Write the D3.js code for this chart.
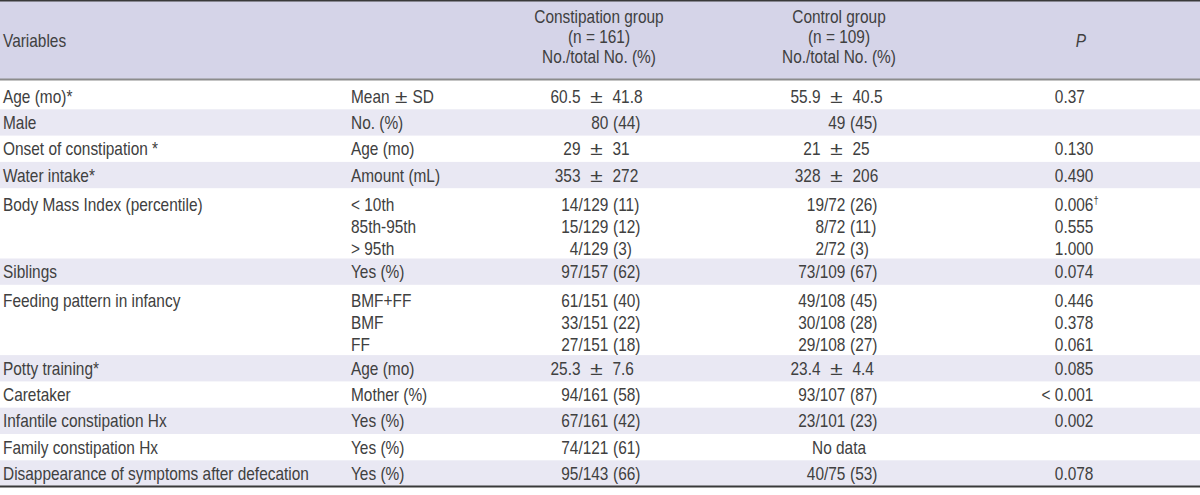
<!DOCTYPE html>
<html>
<head>
<meta charset="utf-8">
<script src="https://cdn.jsdelivr.net/npm/d3@7"></script>
<style>
  html, body { margin: 0; padding: 0; background: #fff; }
  svg { display: block; }
</style>
</head>
<body>
<svg id="chart" width="1200" height="495"></svg>
<script>
// ---------------- DATA ----------------
const headerVariables = "Variables";
const headerConstipation = ["Constipation group", "(n = 161)", "No./total No. (%)"];
const headerControl = ["Control group", "(n = 109)", "No./total No. (%)"];
const headerP = "P";

const variables = [
  "Age (mo)*", "Male", "Onset of constipation *", "Water intake*",
  "Body Mass Index (percentile)", "Siblings", "Feeding pattern in infancy",
  "Potty training*", "Caretaker", "Infantile constipation Hx",
  "Family constipation Hx", "Disappearance of symptoms after defecation"
];
const measures = [
  ["Mean ± SD"], ["No. (%)"], ["Age (mo)"], ["Amount (mL)"],
  ["< 10th", "85th-95th", "> 95th"], ["Yes (%)"], ["BMF+FF", "BMF", "FF"],
  ["Age (mo)"], ["Mother (%)"], ["Yes (%)"], ["Yes (%)"], ["Yes (%)"]
];
const constipationValues = [
  ["60.5 ± 41.8"], ["80 (44)"], ["29 ± 31"], ["353 ± 272"],
  ["14/129 (11)", "15/129 (12)", "4/129 (3)"], ["97/157 (62)"],
  ["61/151 (40)", "33/151 (22)", "27/151 (18)"], ["25.3 ± 7.6"],
  ["94/161 (58)"], ["67/161 (42)"], ["74/121 (61)"], ["95/143 (66)"]
];
const controlValues = [
  ["55.9 ± 40.5"], ["49 (45)"], ["21 ± 25"], ["328 ± 206"],
  ["19/72 (26)", "8/72 (11)", "2/72 (3)"], ["73/109 (67)"],
  ["49/108 (45)", "30/108 (28)", "29/108 (27)"], ["23.4 ± 4.4"],
  ["93/107 (87)"], ["23/101 (23)"], ["No data"], ["40/75 (53)"]
];
const pValues = [
  ["0.37"], [""], ["0.130"], ["0.490"],
  ["0.006†", "0.555", "1.000"], ["0.074"], ["0.446", "0.378", "0.061"],
  ["0.085"], ["< 0.001"], ["0.002"], [""], ["0.078"]
];

// ---------------- LAYOUT / STYLE ----------------
const W = 1200, H = 495;
const FONT = "'Liberation Sans', Arial, sans-serif";
const FS = 18.8;           // font size
const SX = 0.82;           // horizontal condensing
const TEXT = "#404040";
const HEADER_BG = "#d5d4e8";
const STRIPE_BG = "#e9e8f3";
const GAP = 4.6;           // word space

const headerH = 80;
const firstRowExtra = 3;
const rowH = 26.3;
const subPitch = 22;

const svg = d3.select("#chart");

// column anchors via ordinal scale
const colX = d3.scaleOrdinal()
  .domain(["var", "measure", "conCenter", "conPM", "conParen", "ctlCenter", "ctlPM", "ctlParen", "pDot", "pHead"])
  .range([3, 351, 599, 596.5, 613, 839, 836.5, 850, 1063.4, 1081]);

function txt(g, s, x, y, anchor, extra) {
  const t = g.append("text")
    .attr("transform", `translate(${x},${y}) scale(${SX},1)`)
    .attr("text-anchor", anchor || "start")
    .attr("font-family", FONT)
    .attr("font-size", FS)
    .attr("fill", TEXT);
  if (extra && extra.italic) t.attr("font-style", "italic");
  if (s.endsWith("†")) {
    t.append("tspan").text(s.slice(0, -1));
    t.append("tspan").text("†").attr("font-size", FS * 0.6).attr("dy", -7);
  } else {
    t.text(s);
  }
  return t;
}
function tw(s) {
  const t = txt(svg, s, 0, -100, "start");
  const w = t.node().getComputedTextLength() * SX;
  t.remove();
  return w;
}
function pm(g, c, y) {
  g.append("text").attr("transform", `translate(${c},${y}) scale(1.2,1)`).attr("text-anchor", "middle")
    .attr("font-family", FONT).attr("font-size", FS)
    .attr("fill", TEXT).text("±");
}

// ± pieces, symmetric around the ± glyph
function drawPM(g, s, c, y, half) {
  const [a, b] = s.split("±").map(d => d.trim());
  txt(g, a, c - half, y, "end");
  pm(g, c, y);
  txt(g, b, c + half, y, "start");
}

function drawValue(g, s, col, y) {
  if (!s) return;
  if (s.includes("±")) {
    drawPM(g, s, colX(col + "PM"), y, 16);
  } else if (s.includes("(")) {
    const i = s.indexOf("(");
    const px = colX(col + "Paren");
    txt(g, s.slice(0, i).trim(), px - GAP, y, "end");
    txt(g, s.slice(i), px, y, "start");
  } else {
    txt(g, s, colX(col + "Center"), y, "middle");
  }
}

function drawP(g, s, y) {
  if (!s) return;
  const i = s.indexOf(".");
  const dx = colX("pDot");
  txt(g, s.slice(0, i), dx, y, "end");
  txt(g, s.slice(i), dx, y, "start");
}

function drawMeasure(g, s, y) {
  const x = colX("measure");
  if (s.includes("±")) {
    const a = s.split("±")[0].trim();
    const c = x + tw(a) + 11.5;
    drawPM(g, s, c, y, 11.5);
  } else {
    txt(g, s, x, y, "start");
  }
}

// ---------------- ROW GEOMETRY ----------------
const rows = variables.map((v, i) => ({
  v, m: measures[i], c: constipationValues[i], k: controlValues[i], p: pValues[i],
  n: measures[i].length
}));
let yCur = headerH;
rows.forEach((r, i) => {
  const h = (r.n === 1 ? rowH : rowH + (r.n - 1) * subPitch) + (i === 0 ? firstRowExtra : 0);
  r.y0 = yCur; r.h = h; yCur += h;
  const top = r.y0 + (i === 0 ? firstRowExtra : 0);
  r.lineCenters = d3.range(r.n).map(j => r.n === 1 ? top + rowH / 2 : top + 16 + j * subPitch);
});
const tableBottom = yCur;
const BASE = 6.6; // baseline offset from visual center

// ---------------- DRAW ----------------
svg.append("rect").attr("x", 0).attr("y", 0).attr("width", W).attr("height", headerH).attr("fill", HEADER_BG);
svg.append("g").selectAll("rect").data(rows.filter((r, i) => i % 2 === 1)).join("rect")
  .attr("x", 0).attr("y", d => d.y0).attr("width", W).attr("height", d => d.h).attr("fill", STRIPE_BG);

svg.append("line").attr("x1", 0).attr("x2", W).attr("y1", 0.75).attr("y2", 0.75).attr("stroke", "#3a3a3a").attr("stroke-width", 1.5);
svg.append("line").attr("x1", 0).attr("x2", W).attr("y1", headerH - 0.5).attr("y2", headerH - 0.5).attr("stroke", "#8c8c8c").attr("stroke-width", 2);
svg.append("line").attr("x1", 0).attr("x2", W).attr("y1", tableBottom).attr("y2", tableBottom).attr("stroke", "#3a3a3a").attr("stroke-width", 2);

const hg = svg.append("g");
txt(hg, headerVariables, colX("var"), 40 + BASE, "start");
const hy = [16.7, 36.7, 56.7];
headerConstipation.forEach((s, i) => txt(hg, s, colX("conCenter"), hy[i] + BASE, "middle"));
headerControl.forEach((s, i) => txt(hg, s, colX("ctlCenter"), hy[i] + BASE, "middle"));
txt(hg, headerP, colX("pHead"), 40 + BASE, "middle", { italic: true });

const bg = svg.append("g");
rows.forEach(r => {
  txt(bg, r.v, colX("var"), r.lineCenters[0] + BASE, "start");
  r.lineCenters.forEach((yc, j) => {
    const y = yc + BASE;
    drawMeasure(bg, r.m[j], y);
    drawValue(bg, r.c[j], "con", y);
    drawValue(bg, r.k[j], "ctl", y);
    drawP(bg, r.p[j], y);
  });
});
</script>
</body>
</html>
